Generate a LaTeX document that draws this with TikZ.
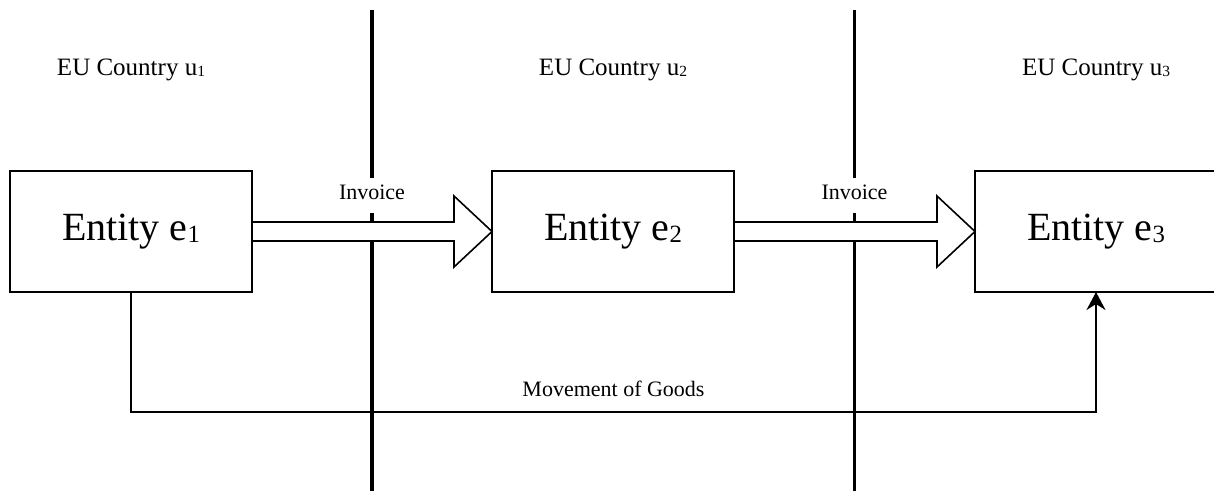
\documentclass[tikz,border=0pt]{standalone}
\usepackage{fontspec}
\setmainfont{Liberation Serif}
\usepackage{graphicx}
\usepackage{tikz}
\usetikzlibrary{arrows.meta,positioning,calc}
\newcommand{\idx}[1]{\raisebox{-0.04em}{\scalebox{0.62}{#1}}}

\begin{document}
\begin{tikzpicture}[
    x=1pt, y=-1pt,
    entity/.style={draw, line width=2pt, fill=white, minimum width=242pt, minimum height=121pt, inner sep=0pt, outer sep=0pt, font=\fontsize{40}{48}\selectfont},
    country/.style={inner sep=0pt, font=\fontsize{25}{30}\selectfont},
    border/.style={line width=3.5pt},
    invoice/.style={fill=white, inner sep=7pt, text depth=6pt, font=\fontsize{22}{26}\selectfont},
    bigarrow/.style={draw, fill=white, line width=1.6pt, line join=miter},
    goods/.style={-{Stealth[length=18pt,width=19pt,inset=6pt]}, line width=2pt},
    lbl/.style={inner sep=0pt, font=\fontsize{22}{26}\selectfont}
]
    \useasboundingbox (0,0) rectangle (1214,490);

    \node[entity] (e1) at (131,231.5) {Entity e\idx{1}};
    \node[entity, right=240pt of e1] (e2) {Entity e\idx{2}};
    \node[entity, right=241pt of e2] (e3) {Entity e\idx{3}};

    \node[country, above=90pt of e1] (u1) {EU Country u\idx{1}};
    \node[country, above=90pt of e2] (u2) {EU Country u\idx{2}};
    \node[country, above=90pt of e3] (u3) {EU Country u\idx{3}};

    % borders between the countries
    \coordinate (b1) at ($(e1.east)!0.5!(e2.west)$);
    \coordinate (b2) at ($(e2.east)!0.5!(e3.west)$);
    \draw[border] ($(b1)+(0,-221.5)$) -- ($(b1)+(0,262)$);
    \draw[border] ($(b2)+(0,-221.5)$) -- ($(b2)+(0,262)$);

    \node[invoice] (inv1) at ($(b1)+(0,-36)$) {Invoice};
    \node[invoice] (inv2) at ($(b2)+(0,-36)$) {Invoice};

    % invoice arrows
    \draw[bigarrow] ($(e1.east)+(0,-9.5)$) -- ($(e2.west)+(-38,-9.5)$) -- ($(e2.west)+(-38,-35.5)$)
        -- (e2.west) -- ($(e2.west)+(-38,35.5)$) -- ($(e2.west)+(-38,9.5)$) -- ($(e1.east)+(0,9.5)$) -- cycle;
    \draw[bigarrow] ($(e2.east)+(0,-9.5)$) -- ($(e3.west)+(-38,-9.5)$) -- ($(e3.west)+(-38,-35.5)$)
        -- (e3.west) -- ($(e3.west)+(-38,35.5)$) -- ($(e3.west)+(-38,9.5)$) -- ($(e2.east)+(0,9.5)$) -- cycle;

    \draw[goods] (e1.south) -- ++(0,120) -| node[lbl, pos=0.25, above=14pt] (mog) {Movement of Goods} (e3.south);
\end{tikzpicture}
\end{document}
